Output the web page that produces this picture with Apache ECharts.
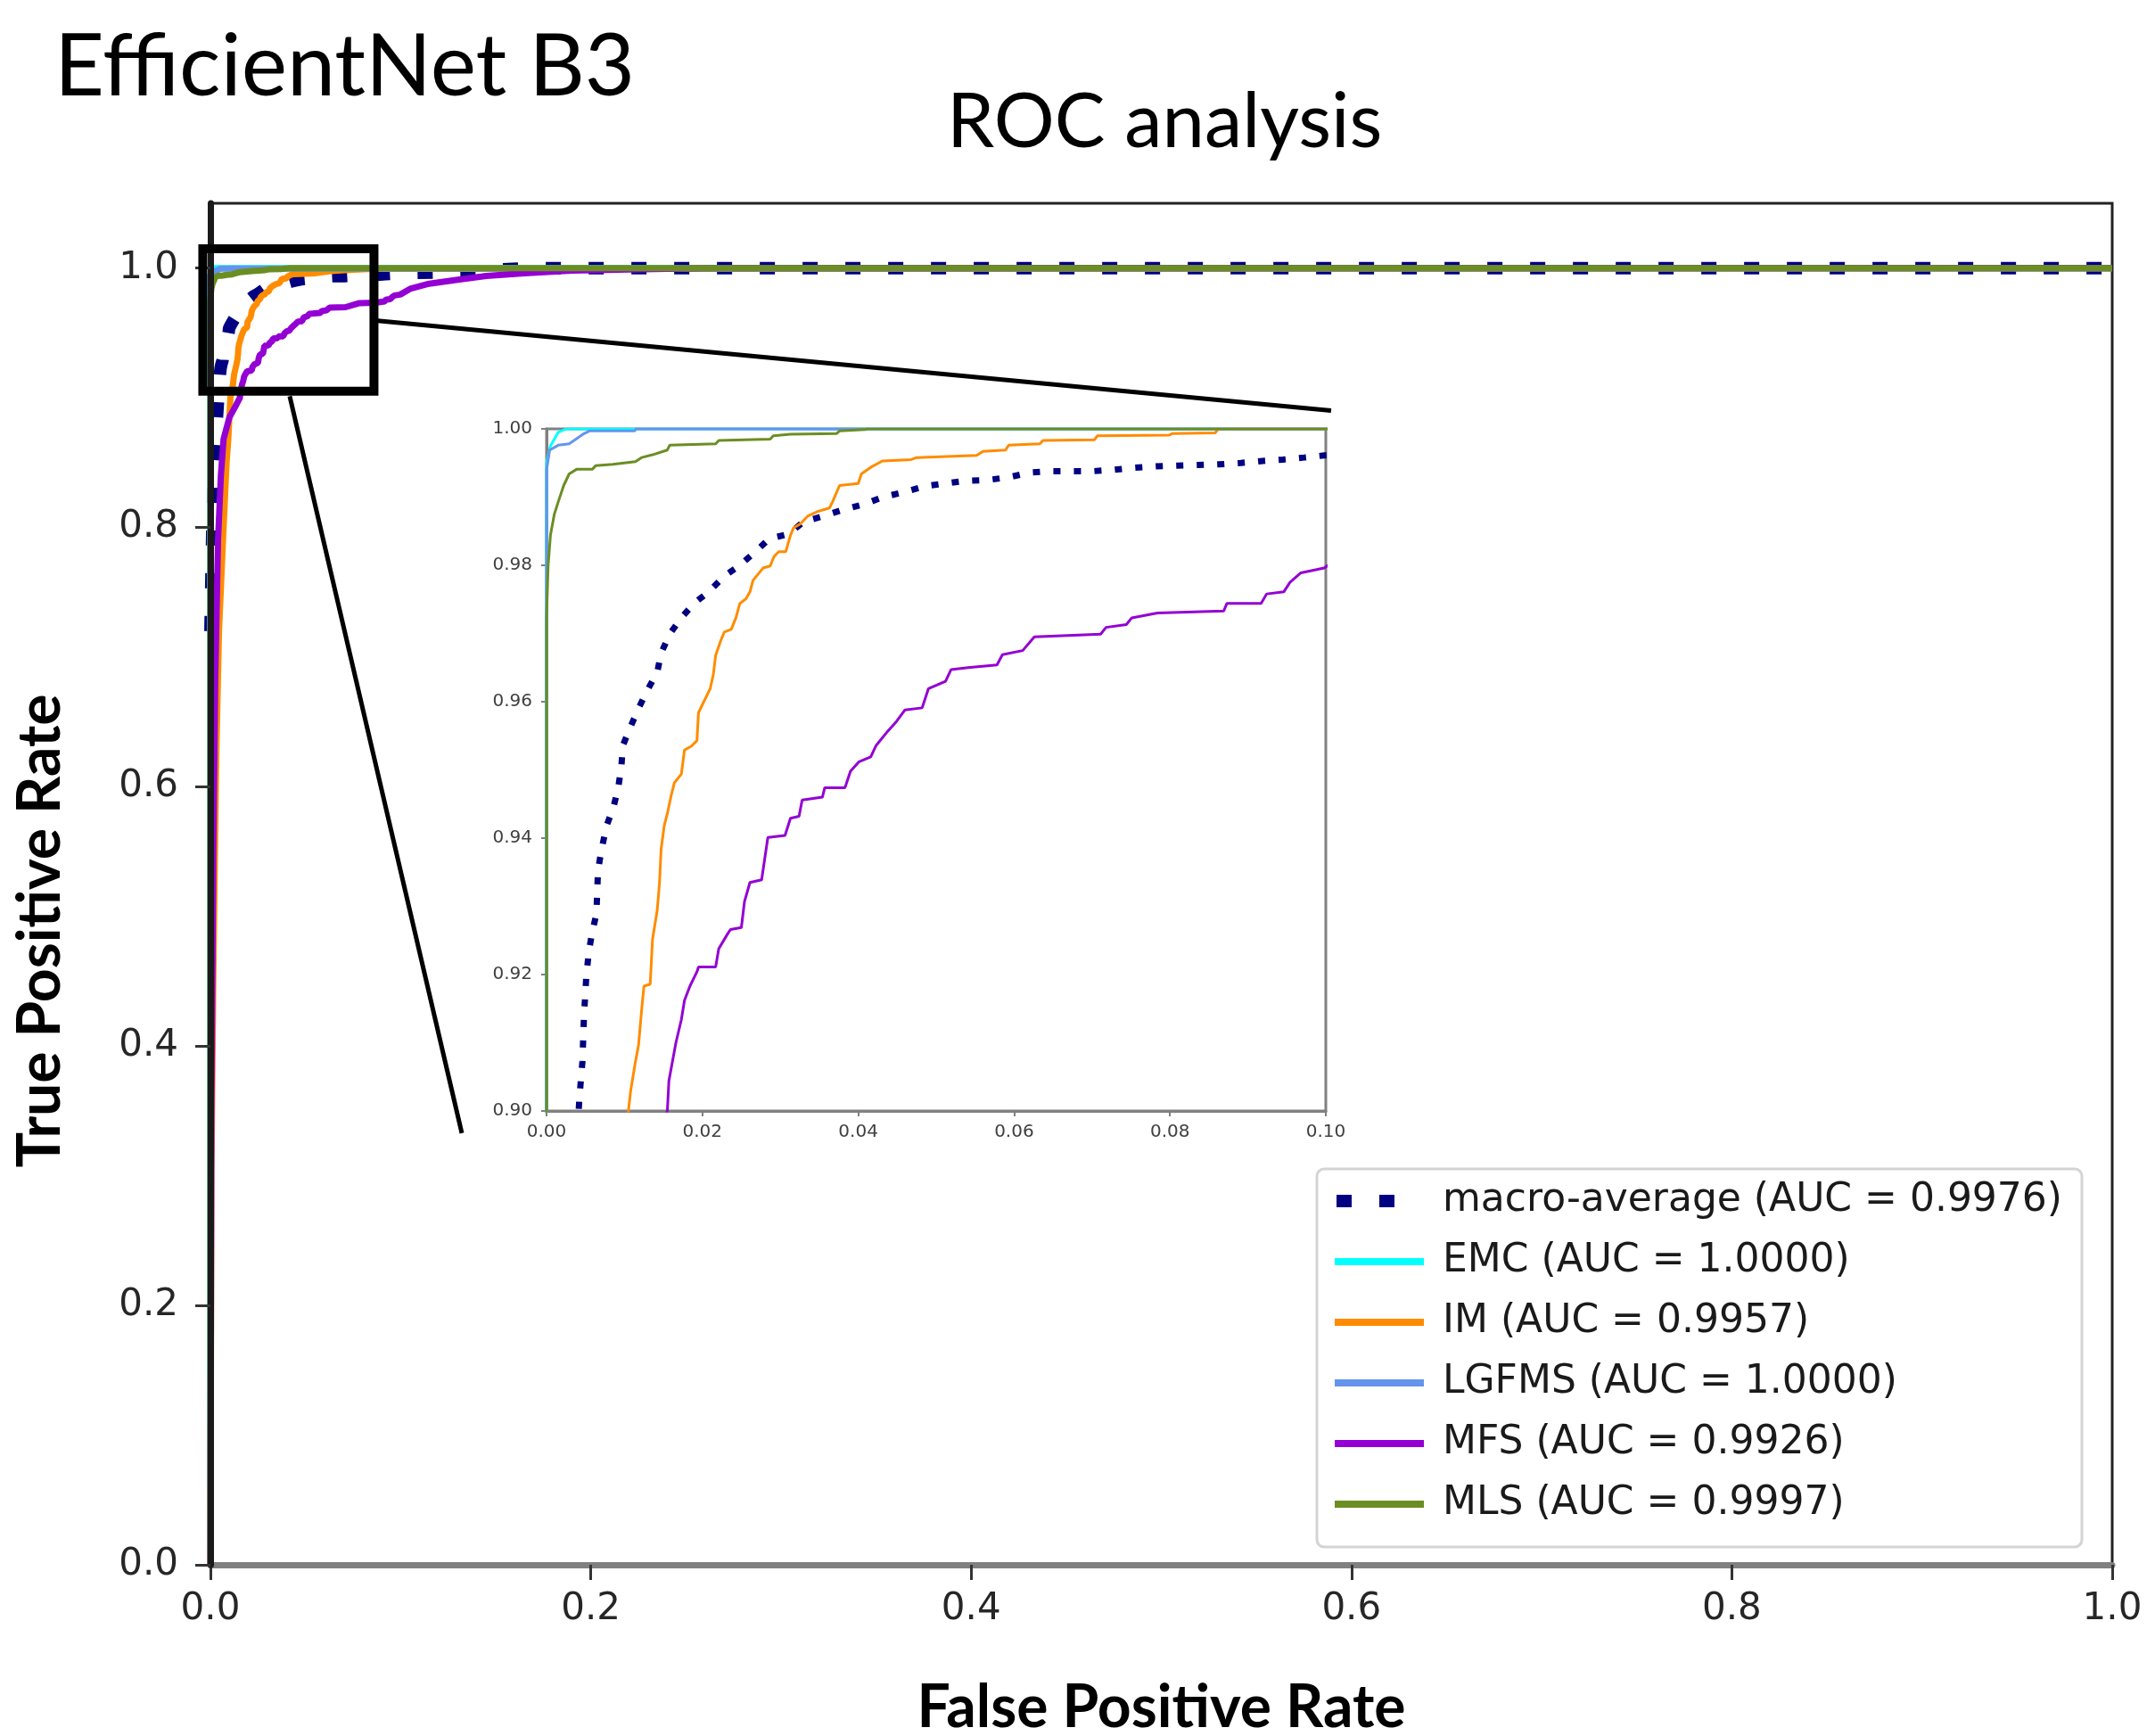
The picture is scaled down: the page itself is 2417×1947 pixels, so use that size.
<!DOCTYPE html>
<html>
<head>
<meta charset="utf-8">
<script src="https://cdn.jsdelivr.net/npm/echarts@6/dist/echarts.min.js"></script>
<style>
  html, body { margin: 0; padding: 0; background: #ffffff; }
  #chart { width: 2417px; height: 1947px; }
</style>
</head>
<body>
<div id="chart"></div>
<script>
// ROC curves per class: [false positive rate, true positive rate]
const curveNames = ['macro-average', 'EMC', 'IM', 'LGFMS', 'MFS', 'MLS'];
const aucValues = [0.9976, 1.0000, 0.9957, 1.0000, 0.9926, 0.9997];

const macroAvgRoc = [
  [0, 0.72], [0.001, 0.80], [0.002, 0.85], [0.003, 0.875], [0.0042, 0.9017], [0.0046, 0.9072],
  [0.0048, 0.9138], [0.0051, 0.9197], [0.0054, 0.9231], [0.0058, 0.9259], [0.0064, 0.9289], [0.0065, 0.9321],
  [0.0066, 0.9352], [0.0070, 0.9380], [0.0077, 0.9418], [0.0086, 0.9446], [0.0092, 0.9474], [0.0096, 0.9505],
  [0.0098, 0.9536], [0.0108, 0.9564], [0.0118, 0.9590], [0.0129, 0.9616], [0.0142, 0.9643], [0.0147, 0.9671],
  [0.0158, 0.9699], [0.0173, 0.9723], [0.0189, 0.9744], [0.0208, 0.9761], [0.0228, 0.9784], [0.0247, 0.9799],
  [0.0267, 0.9819], [0.0286, 0.9839], [0.0311, 0.9846], [0.0330, 0.9864], [0.0355, 0.9872], [0.0379, 0.9881],
  [0.0406, 0.9889], [0.0432, 0.9900], [0.0458, 0.9907], [0.0486, 0.9916], [0.0512, 0.9920], [0.0540, 0.9924],
  [0.0566, 0.9925], [0.0593, 0.9929], [0.0620, 0.9936], [0.0647, 0.9938], [0.0674, 0.9938], [0.0702, 0.9938],
  [0.0728, 0.9940], [0.0755, 0.9943], [0.0782, 0.9945], [0.0809, 0.9946], [0.0836, 0.9947], [0.0863, 0.9948],
  [0.0891, 0.9950], [0.0919, 0.9953], [0.0945, 0.9955], [0.0972, 0.9958], [0.0998, 0.9961], [0.12, 0.9967],
  [0.14, 0.9974], [0.15, 0.9990], [0.17, 1.0], [1.0, 1.0]
];

const emcRoc = [
  [0, 0], [0, 0.9950], [0.0005, 0.9975], [0.0015, 0.9995], [0.0025, 1.0], [1.0, 1.0]
];

const imRoc = [
  [0, 0], [0.0005, 0.30], [0.0015, 0.45], [0.003, 0.62], [0.0045, 0.72], [0.0066, 0.79], [0.0085, 0.85],
  [0.0094, 0.868], [0.0105, 0.9000], [0.0108, 0.9030], [0.0114, 0.9072], [0.0118, 0.9096], [0.0122, 0.9148],
  [0.0125, 0.9183], [0.0133, 0.9186], [0.0136, 0.9252], [0.0142, 0.9294], [0.0145, 0.9335], [0.0147, 0.9384],
  [0.0151, 0.9418], [0.0155, 0.9436], [0.0160, 0.9463], [0.0164, 0.9481], [0.0173, 0.9494], [0.0177, 0.9529],
  [0.0186, 0.9535], [0.0193, 0.9543], [0.0195, 0.9584], [0.0201, 0.9598], [0.0210, 0.9619], [0.0214, 0.9640],
  [0.0217, 0.9668], [0.0223, 0.9688], [0.0228, 0.9702], [0.0237, 0.9706], [0.0243, 0.9723], [0.0248, 0.9744],
  [0.0256, 0.9751], [0.0261, 0.9761], [0.0265, 0.9778], [0.0275, 0.9792], [0.0278, 0.9796], [0.0287, 0.9799],
  [0.0292, 0.9813], [0.0298, 0.9820], [0.0307, 0.9820], [0.0313, 0.9844], [0.0317, 0.9855], [0.0326, 0.9861],
  [0.0335, 0.9872], [0.0348, 0.9879], [0.0363, 0.9884], [0.0367, 0.9893], [0.0376, 0.9917], [0.0400, 0.9920],
  [0.0404, 0.9934], [0.0418, 0.9945], [0.0431, 0.9953], [0.0468, 0.9955], [0.0475, 0.9958], [0.0552, 0.9961],
  [0.0560, 0.9967], [0.0589, 0.9969], [0.0593, 0.9976], [0.0633, 0.9978], [0.0637, 0.9983], [0.0703, 0.9984],
  [0.0707, 0.9990], [0.0799, 0.9991], [0.0803, 0.9993], [0.0858, 0.9994], [0.0862, 1.0], [1.0, 1.0]
];

const lgfmsRoc = [
  [0, 0], [0, 0.9940], [0.0004, 0.9969], [0.0015, 0.9976], [0.0029, 0.9978], [0.0039, 0.9986],
  [0.0048, 0.9993], [0.0055, 0.9997], [0.0113, 0.9997], [0.0115, 1.0], [1.0, 1.0]
];

const mfsRoc = [
  [0, 0], [0.0005, 0.35], [0.0015, 0.55], [0.0025, 0.68], [0.004, 0.79], [0.0055, 0.84], [0.0069, 0.868],
  [0.0100, 0.885], [0.0130, 0.893], [0.0155, 0.9000], [0.0157, 0.9044], [0.0166, 0.9100], [0.0173, 0.9134],
  [0.0177, 0.9162], [0.0184, 0.9183], [0.0193, 0.9204], [0.0195, 0.9211], [0.0217, 0.9211], [0.0221, 0.9238],
  [0.0232, 0.9259], [0.0236, 0.9266], [0.0250, 0.9269], [0.0254, 0.9307], [0.0261, 0.9335], [0.0276, 0.9339],
  [0.0284, 0.9401], [0.0306, 0.9404], [0.0313, 0.9429], [0.0324, 0.9432], [0.0328, 0.9456], [0.0354, 0.9460],
  [0.0357, 0.9474], [0.0383, 0.9474], [0.0390, 0.9498], [0.0401, 0.9512], [0.0416, 0.9519], [0.0423, 0.9536],
  [0.0438, 0.9557], [0.0449, 0.9571], [0.0460, 0.9588], [0.0482, 0.9591], [0.0490, 0.9619], [0.0512, 0.9630],
  [0.0519, 0.9647], [0.0541, 0.9650], [0.0578, 0.9654], [0.0585, 0.9669], [0.0611, 0.9675], [0.0626, 0.9695],
  [0.0711, 0.9699], [0.0718, 0.9709], [0.0744, 0.9713], [0.0751, 0.9723], [0.0784, 0.9730], [0.0869, 0.9733],
  [0.0873, 0.9744], [0.0917, 0.9744], [0.0924, 0.9758], [0.0946, 0.9761], [0.0954, 0.9775], [0.0968, 0.9789],
  [0.0998, 0.9796], [0.105, 0.984], [0.115, 0.988], [0.13, 0.991], [0.145, 0.994], [0.165, 0.996],
  [0.19, 0.998], [0.22, 0.999], [0.26, 1.0], [1.0, 1.0]
];

const mlsRoc = [
  [0, 0], [0, 0.9723], [0.0002, 0.9799], [0.0005, 0.9844], [0.0010, 0.9875], [0.0015, 0.9893],
  [0.0022, 0.9917], [0.0029, 0.9934], [0.0039, 0.9941], [0.0059, 0.9941], [0.0063, 0.9946], [0.0085, 0.9948],
  [0.0114, 0.9952], [0.0122, 0.9958], [0.0136, 0.9962], [0.0155, 0.9969], [0.0158, 0.9976], [0.0217, 0.9978],
  [0.0221, 0.9983], [0.0287, 0.9985], [0.0291, 0.9990], [0.0313, 0.9992], [0.0372, 0.9993], [0.0376, 0.9997],
  [0.0409, 0.9999], [0.0412, 1.0], [1.0, 1.0]
];

// Tick values for the full view and the zoomed view
const mainXTicks = [0, 0.2, 0.4, 0.6, 0.8, 1.0];
const mainYTicks = [0, 0.2, 0.4, 0.6, 0.8, 1.0];
const zoomXTicks = [0, 0.02, 0.04, 0.06, 0.08, 0.10];
const zoomYTicks = [0.90, 0.92, 0.94, 0.96, 0.98, 1.00];

// Highlight box around the magnified corner and its two leader lines (full-view data space)
const zoomBoxCorners = [[-0.004, 1.015], [0.086, 0.905]];
const leaderLines = [
  [[0.0867, 0.9595], [0.5893, 0.8902]],
  [[0.0417, 0.9012], [0.1322, 0.3329]]
];

const curveData = [macroAvgRoc, emcRoc, imRoc, lgfmsRoc, mfsRoc, mlsRoc];
const curveColors = ['#000080', '#00ffff', '#ff8c00', '#6495ed', '#9400d3', '#6b8e23'];

const chart = echarts.init(document.getElementById('chart'), null, { renderer: 'canvas' });

const tickFont = 'DejaVu Sans';

function mainSeries(i) {
  const dotted = i === 0;
  return {
    name: curveNames[i],
    type: 'line',
    xAxisIndex: 0,
    yAxisIndex: 0,
    data: curveData[i],
    symbol: 'none',
    clip: true,
    animation: false,
    z: 2,
    lineStyle: dotted
      ? { color: curveColors[i], width: 14, type: [17, 31], cap: 'butt' }
      : { color: curveColors[i], width: 7 },
    itemStyle: { color: curveColors[i] }
  };
}

function zoomSeries(i) {
  const dotted = i === 0;
  return {
    name: curveNames[i],
    type: 'line',
    xAxisIndex: 1,
    yAxisIndex: 1,
    data: curveData[i],
    symbol: 'none',
    clip: true,
    animation: false,
    z: 4,
    lineStyle: dotted
      ? { color: curveColors[i], width: 7, type: [8, 15], cap: 'butt' }
      : { color: curveColors[i], width: 3 },
    itemStyle: { color: curveColors[i] }
  };
}

const series = [];
curveNames.forEach((_, i) => series.push(mainSeries(i)));
curveNames.forEach((_, i) => series.push(zoomSeries(i)));

// Box and leader lines marking the magnified region
series.push({
  type: 'custom',
  xAxisIndex: 0,
  yAxisIndex: 0,
  clip: false,
  silent: true,
  animation: false,
  z: 10,
  data: [[0, 0]],
  renderItem: function (params, api) {
    const a = api.coord(zoomBoxCorners[0]);
    const b = api.coord(zoomBoxCorners[1]);
    const children = [{
      type: 'rect',
      shape: { x: a[0], y: a[1], width: b[0] - a[0], height: b[1] - a[1] },
      style: { fill: 'none', stroke: '#000000', lineWidth: 10 }
    }];
    leaderLines.forEach(function (seg) {
      const p = api.coord(seg[0]);
      const q = api.coord(seg[1]);
      children.push({
        type: 'line',
        shape: { x1: p[0], y1: p[1], x2: q[0], y2: q[1] },
        style: { stroke: '#000000', lineWidth: 5 }
      });
    });
    return { type: 'group', children: children };
  }
});

const option = {
  backgroundColor: '#ffffff',
  animation: false,
  title: [
    {
      text: 'EfficientNet B3',
      left: 61,
      top: 27,
      padding: 0,
      textStyle: { fontFamily: 'Lato', fontSize: 97, fontWeight: 'normal', color: '#000000' }
    },
    {
      text: 'ROC analysis',
      left: 1062,
      top: 95,
      padding: 0,
      textStyle: { fontFamily: 'Lato', fontSize: 85, fontWeight: 'normal', color: '#000000' }
    }
  ],
  grid: [
    {
      left: 236, top: 228, width: 2133, height: 1527,
      show: true, backgroundColor: '#ffffff', borderColor: '#222222', borderWidth: 3,
      containLabel: false, outerBoundsMode: 'none'
    },
    {
      left: 613, top: 481, width: 874, height: 765,
      show: true, backgroundColor: '#ffffff', borderColor: '#808080', borderWidth: 3,
      containLabel: false, outerBoundsMode: 'none', z: 3
    }
  ],
  xAxis: [
    {
      type: 'value', gridIndex: 0, min: 0, max: 1, interval: 0.2,
      axisLine: { show: true, onZero: false, lineStyle: { color: '#808080', width: 7 } },
      axisTick: { show: true, length: 17, customValues: mainXTicks, lineStyle: { color: '#333333', width: 3 } },
      axisLabel: {
        show: true, margin: 29, customValues: mainXTicks,
        fontFamily: tickFont, fontSize: 42, color: '#262626',
        formatter: function (v) { return v.toFixed(1); }
      },
      splitLine: { show: false },
      name: 'False Positive Rate',
      nameLocation: 'middle',
      nameGap: 128,
      nameTextStyle: { fontFamily: 'Lato', fontWeight: 'bold', fontSize: 66, color: '#000000' }
    },
    {
      type: 'value', gridIndex: 1, min: 0, max: 0.1, interval: 0.02,
      axisLine: { show: true, onZero: false, lineStyle: { color: '#808080', width: 3 } },
      axisTick: { show: true, length: 6, customValues: zoomXTicks, lineStyle: { color: '#808080', width: 2 } },
      axisLabel: {
        show: true, margin: 14, customValues: zoomXTicks,
        fontFamily: tickFont, fontSize: 20, color: '#404040',
        formatter: function (v) { return v.toFixed(2); }
      },
      splitLine: { show: false },
      z: 3
    }
  ],
  yAxis: [
    {
      type: 'value', gridIndex: 0, min: 0, max: 1.05, interval: 0.2,
      z: 5,
      axisLine: { show: true, onZero: false, lineStyle: { color: '#1a1a1a', width: 7 } },
      axisTick: { show: true, length: 17, customValues: mainYTicks, lineStyle: { color: '#333333', width: 3 } },
      axisLabel: {
        show: true, margin: 36, customValues: mainYTicks,
        fontFamily: tickFont, fontSize: 42, color: '#262626',
        formatter: function (v) { return v > 1.0001 ? '' : v.toFixed(1); }
      },
      splitLine: { show: false }
    },
    {
      type: 'value', gridIndex: 1, min: 0.9, max: 1.0, interval: 0.02,
      axisLine: { show: true, onZero: false, lineStyle: { color: '#808080', width: 3 } },
      axisTick: { show: true, length: 6, customValues: zoomYTicks, lineStyle: { color: '#808080', width: 2 } },
      axisLabel: {
        show: true, margin: 16, customValues: zoomYTicks,
        fontFamily: tickFont, fontSize: 20, color: '#404040',
        formatter: function (v) { return v.toFixed(2); }
      },
      splitLine: { show: false },
      z: 3
    }
  ],
  legend: {
    orient: 'vertical',
    left: 1477,
    top: 1311,
    selectedMode: false,
    data: curveNames.map(function (n, i) {
      return {
        name: n,
        // the dotted key shows exactly two dots
        lineStyle: i === 0 ? { width: 14, type: [17, 31, 17, 60], dashOffset: -2 } : { width: 8 },
        itemStyle: { opacity: 0, borderWidth: 0 }
      };
    }),
    itemWidth: 100,
    itemHeight: 22,
    itemGap: 18,
    padding: [11, 22, 23, 13],
    backgroundColor: '#ffffff',
    borderColor: '#d4d4d4',
    borderWidth: 3,
    borderRadius: 8,
    textStyle: {
      fontFamily: 'DejaVu Sans', fontSize: 44, color: '#1a1a1a', lineHeight: 50,
      padding: [0, 0, 0, 16]
    },
    formatter: function (name) {
      const i = curveNames.indexOf(name);
      return name + ' (AUC = ' + aucValues[i].toFixed(4) + ')';
    }
  },
  graphic: [
    {
      type: 'text',
      x: 46,
      y: 1044,
      rotation: Math.PI / 2,
      style: {
        text: 'True Positive Rate',
        fill: '#000000',
        font: 'bold 66px Lato',
        align: 'center',
        verticalAlign: 'middle'
      }
    }
  ],
  series: series
};

chart.setOption(option);
</script>
</body>
</html>
